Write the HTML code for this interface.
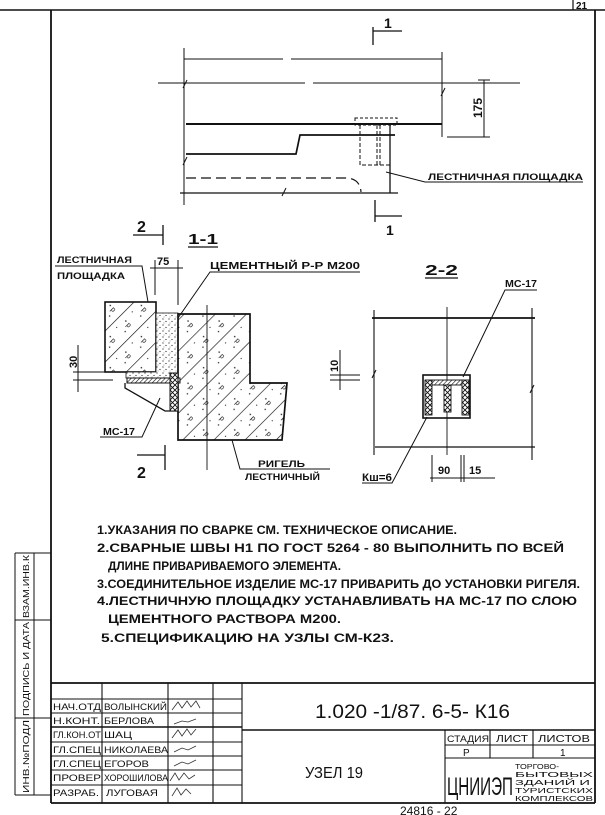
<!DOCTYPE html>
<html><head><meta charset="utf-8"><style>
html,body{margin:0;padding:0;background:#fff}
svg{display:block}
text{font-family:"Liberation Sans","DejaVu Sans",sans-serif;fill:#111}
</style></head><body>
<svg width="605" height="815" viewBox="0 0 605 815" xmlns="http://www.w3.org/2000/svg">
<defs>
<pattern id="hat" width="22" height="22" patternUnits="userSpaceOnUse" patternTransform="rotate(45)">
<rect width="22" height="22" fill="#fff"/>
<line x1="0" y1="0" x2="0" y2="22" stroke="#111" stroke-width="1.3"/>
<circle cx="8" cy="6" r="0.8" fill="#222"/><circle cx="15" cy="14" r="0.7" fill="#222"/><circle cx="6" cy="17" r="0.6" fill="#222"/>
<text x="11" y="9" font-size="7">p</text>
</pattern>
<pattern id="dots" width="6" height="6" patternUnits="userSpaceOnUse">
<rect width="6" height="6" fill="#fff"/>
<circle cx="1" cy="1" r="0.6" fill="#222"/><circle cx="4" cy="3.5" r="0.6" fill="#222"/><circle cx="2" cy="5" r="0.4" fill="#222"/>
</pattern>
<pattern id="sh" width="3" height="3" patternUnits="userSpaceOnUse" patternTransform="rotate(45)">
<rect width="3" height="3" fill="#fff"/><line x1="0" y1="0" x2="0" y2="3" stroke="#111" stroke-width="1.2"/>
</pattern>
<pattern id="xx" width="5" height="5" patternUnits="userSpaceOnUse">
<rect width="5" height="5" fill="#fff"/><path d="M0 0L5 5M5 0L0 5" stroke="#111" stroke-width="0.9"/>
</pattern>
</defs>
<g stroke="#111" fill="none">
<!-- frame -->
<line x1="0" y1="10" x2="605" y2="10" stroke-width="1.5"/>
<line x1="573" y1="0" x2="573" y2="10" stroke-width="1.2"/>
<line x1="595" y1="10" x2="595" y2="803" stroke-width="1.8"/>
<line x1="51" y1="10" x2="51" y2="803" stroke-width="1.8"/>
<line x1="51" y1="803" x2="595" y2="803" stroke-width="1.8"/>
<!-- left strip -->
<path d="M15 553H51M15 620H51M15 718H51M15 795H51M15 553V795M34 553V795" stroke-width="1"/>
<!-- title block -->
<path d="M51 683H595" stroke-width="1.8"/>
<path d="M51 699H242M51 713H242M51 742H242M51 756H242M51 770H242M51 785H242" stroke-width="0.9"/>
<path d="M51 727H242M242 730H595" stroke-width="1.6"/>
<path d="M102 683V803M168 683V803M213 683V803M242 683V803" stroke-width="1.1"/>
<path d="M445 730V803M445 745H595M445 758H595M490 730V758M533 730V758" stroke-width="1.1"/>

<!-- top view -->
<path d="M373 27V45M373 31H402" stroke-width="1.3"/>
<path d="M184 48V205M442 52V137M184 59H283M291 59H442" stroke-width="1"/>
<path d="M158 83H305M313 83H520" stroke-width="0.9"/>
<path d="M186 124H442" stroke-width="2"/>
<path d="M186 154H296L300 135H395" stroke-width="1.7"/>
<path d="M355 118H397V125H355Z" stroke-width="1" stroke-dasharray="3 2"/>
<path d="M360 125V165H390M377 125V165M380 125V165" stroke-width="1" stroke-dasharray="4 2"/>
<path d="M390 125V193" stroke-width="1.3"/>
<path d="M186 178H345Q360 178 361 192" stroke-width="1.2" stroke-dasharray="10 5"/>
<path d="M180 193H398" stroke-width="1.2"/>
<path d="M183 88L187 80M441 96L445 88M183 165L187 157M282 196L286 188" stroke-width="1"/>
<path d="M375 200V222M375 216H402" stroke-width="1.3"/>
<path d="M484 80V137M447 137H490M478 80H490" stroke-width="1"/>
<path d="M386 172L425 182H583" stroke-width="1"/>

<!-- section 1-1 -->
<path d="M133 235H163M163 225V245" stroke-width="1.3"/>
<path d="M188 247H218" stroke-width="1.3"/>
<rect x="105" y="302" width="51" height="70" fill="url(#hat)" stroke-width="1.6"/>
<path d="M156 313H178V378H126V372H156Z" fill="url(#dots)" stroke-width="0.8"/>
<path d="M178 314H250V383H287L282 440H178Z" fill="url(#hat)" stroke-width="1.7"/>
<path d="M127 378H180V383H127Z" fill="url(#sh)" stroke-width="1"/>
<path d="M125 383V388L165 411H178" stroke-width="1.3"/>
<path d="M170 373H178V411H170Z" fill="url(#xx)" stroke-width="1"/>
<path d="M207 305V470" stroke-width="0.9"/>
<path d="M55 266H142L148 302" stroke-width="1"/>
<path d="M155 260V295M178 260V305M150 268H183" stroke-width="1"/>
<path d="M360 272H210L178 318" stroke-width="1"/>
<path d="M73 372H113M73 380H113M78 345V392" stroke-width="1"/>
<path d="M330 375H360M330 380H360M340 350V390" stroke-width="1"/>
<path d="M100 437H142L160 398" stroke-width="1"/>
<path d="M137 455H165M165 445V470" stroke-width="1.3"/>
<path d="M330 469H240L232 440" stroke-width="1"/>

<!-- section 2-2 -->
<path d="M425 278H458" stroke-width="1.3"/>
<path d="M372 318H535" stroke-width="1.8"/>
<path d="M375 447H535" stroke-width="1.3"/>
<path d="M374 310V455M532 308V460" stroke-width="1.1"/>
<path d="M447 307V455" stroke-width="0.9"/>
<rect x="423" y="375" width="47" height="43" stroke-width="1.6"/>
<rect x="432" y="380" width="31" height="5" fill="url(#sh)" stroke-width="0.9"/>
<rect x="425" y="380" width="7" height="35" fill="url(#xx)" stroke-width="0.9"/>
<rect x="462" y="380" width="7" height="35" fill="url(#xx)" stroke-width="0.9"/>
<rect x="444" y="385" width="7" height="27" fill="url(#xx)" stroke-width="0.9"/>
<path d="M537 290H505L463 377" stroke-width="1"/>
<path d="M362 483H392L427 417" stroke-width="1"/>
<path d="M432 455V482M461 455V482M464 455V482M430 478H495" stroke-width="1"/>
<path d="M372 378L376 370M530 393L534 385" stroke-width="1"/>
</g>

<!-- texts -->
<g font-weight="bold">
<text x="576" y="9" font-size="10">21</text>
<text x="384" y="28" font-size="14">1</text>
<text x="386" y="235" font-size="14">1</text>
<text transform="translate(482,118) rotate(-90)" font-size="12">175</text>
<text x="428" y="180" font-size="9" textLength="155" lengthAdjust="spacingAndGlyphs">ЛЕСТНИЧНАЯ ПЛОЩАДКА</text>
<text x="137" y="232" font-size="16">2</text>
<text x="188" y="244" font-size="15" textLength="30" lengthAdjust="spacingAndGlyphs">1-1</text>
<text x="57" y="263" font-size="9" textLength="75" lengthAdjust="spacingAndGlyphs">ЛЕСТНИЧНАЯ</text>
<text x="57" y="279" font-size="9" textLength="68" lengthAdjust="spacingAndGlyphs">ПЛОЩАДКА</text>
<text x="157" y="265" font-size="11">75</text>
<text x="210" y="269" font-size="10" textLength="150" lengthAdjust="spacingAndGlyphs">ЦЕМЕНТНЫЙ Р-Р М200</text>
<text transform="translate(77,368) rotate(-90)" font-size="11">30</text>
<text transform="translate(338,372) rotate(-90)" font-size="11">10</text>
<text x="103" y="435" font-size="10" textLength="32" lengthAdjust="spacingAndGlyphs">МС-17</text>
<text x="137" y="478" font-size="16">2</text>
<text x="258" y="467" font-size="9" textLength="47" lengthAdjust="spacingAndGlyphs">РИГЕЛЬ</text>
<text x="245" y="480" font-size="9" textLength="75" lengthAdjust="spacingAndGlyphs">ЛЕСТНИЧНЫЙ</text>
<text x="425" y="275" font-size="15" textLength="33" lengthAdjust="spacingAndGlyphs">2-2</text>
<text x="505" y="287" font-size="10" textLength="32" lengthAdjust="spacingAndGlyphs">МС-17</text>
<text x="362" y="481" font-size="11" textLength="30" lengthAdjust="spacingAndGlyphs">Кш=6</text>
<text x="438" y="474" font-size="11">90</text>
<text x="469" y="474" font-size="11">15</text>
</g>
<g font-size="12" font-weight="bold">
<text x="97" y="534" textLength="360" lengthAdjust="spacingAndGlyphs">1.УКАЗАНИЯ ПО СВАРКЕ СМ. ТЕХНИЧЕСКОЕ ОПИСАНИЕ.</text>
<text x="97" y="552" textLength="467" lengthAdjust="spacingAndGlyphs">2.СВАРНЫЕ ШВЫ Н1 ПО ГОСТ 5264 - 80 ВЫПОЛНИТЬ ПО ВСЕЙ</text>
<text x="108" y="570" textLength="233" lengthAdjust="spacingAndGlyphs">ДЛИНЕ ПРИВАРИВАЕМОГО ЭЛЕМЕНТА.</text>
<text x="97" y="588" textLength="483" lengthAdjust="spacingAndGlyphs">3.СОЕДИНИТЕЛЬНОЕ ИЗДЕЛИЕ МС-17 ПРИВАРИТЬ ДО УСТАНОВКИ РИГЕЛЯ.</text>
<text x="97" y="605" textLength="480" lengthAdjust="spacingAndGlyphs">4.ЛЕСТНИЧНУЮ ПЛОЩАДКУ УСТАНАВЛИВАТЬ НА МС-17 ПО СЛОЮ</text>
<text x="108" y="623" textLength="233" lengthAdjust="spacingAndGlyphs">ЦЕМЕНТНОГО РАСТВОРА  М200.</text>
<text x="101" y="642" textLength="293" lengthAdjust="spacingAndGlyphs">5.СПЕЦИФИКАЦИЮ НА УЗЛЫ СМ-К23.</text>
</g>
<g font-size="8.5">
<text transform="translate(29,793) rotate(-90)" textLength="73" lengthAdjust="spacingAndGlyphs">ИНВ.№ПОДЛ</text>
<text transform="translate(29,716) rotate(-90)" textLength="94" lengthAdjust="spacingAndGlyphs">ПОДПИСЬ И ДАТА</text>
<text transform="translate(29,618) rotate(-90)" textLength="63" lengthAdjust="spacingAndGlyphs">ВЗАМ.ИНВ.К</text>
</g>
<g font-size="9.5">
<text x="53" y="710" textLength="48" lengthAdjust="spacingAndGlyphs">НАЧ.ОТД</text>
<text x="104" y="710" textLength="63" lengthAdjust="spacingAndGlyphs">ВОЛЫНСКИЙ</text>
<text x="53" y="724" textLength="47" lengthAdjust="spacingAndGlyphs">Н.КОНТ.</text>
<text x="104" y="724" textLength="50" lengthAdjust="spacingAndGlyphs">БЕРЛОВА</text>
<text x="53" y="738" textLength="48" lengthAdjust="spacingAndGlyphs">ГЛ.КОН.ОТ</text>
<text x="104" y="738" textLength="28" lengthAdjust="spacingAndGlyphs">ШАЦ</text>
<text x="53" y="753" textLength="48" lengthAdjust="spacingAndGlyphs">ГЛ.СПЕЦ</text>
<text x="104" y="753" textLength="64" lengthAdjust="spacingAndGlyphs">НИКОЛАЕВА</text>
<text x="53" y="767" textLength="48" lengthAdjust="spacingAndGlyphs">ГЛ.СПЕЦ</text>
<text x="104" y="767" textLength="45" lengthAdjust="spacingAndGlyphs">ЕГОРОВ</text>
<text x="53" y="781" textLength="48" lengthAdjust="spacingAndGlyphs">ПРОВЕР</text>
<text x="104" y="781" textLength="64" lengthAdjust="spacingAndGlyphs">ХОРОШИЛОВА</text>
<text x="53" y="796" textLength="46" lengthAdjust="spacingAndGlyphs">РАЗРАБ.</text>
<text x="106" y="796" textLength="52" lengthAdjust="spacingAndGlyphs">ЛУГОВАЯ</text>
</g>
<g stroke="#333" fill="none" stroke-width="0.8">
<path d="M172 710l6-8l4 6l5-7l4 6l5-6l4 7"/>
<path d="M174 724l8-3l6 1l8-3"/>
<path d="M172 738l6-8l4 6l5-7l4 6l5-6"/>
<path d="M174 752l8-4l6 2l8-4"/>
<path d="M174 766l8-4l6 2l8-4"/>
<path d="M170 781l5-8l4 7l5-7l5 6l6-4"/>
<path d="M172 796l5-8l4 7l5-6l5 5"/>
</g>
<text x="315" y="718" font-size="19" textLength="195" lengthAdjust="spacingAndGlyphs">1.020 -1/87. 6-5- К16</text>
<text x="305" y="778" font-size="16" textLength="58" lengthAdjust="spacingAndGlyphs">УЗЕЛ 19</text>
<text x="447" y="742" font-size="9" textLength="42" lengthAdjust="spacingAndGlyphs">СТАДИЯ</text>
<text x="496" y="742" font-size="10" textLength="32" lengthAdjust="spacingAndGlyphs">ЛИСТ</text>
<text x="538" y="742" font-size="10" textLength="52" lengthAdjust="spacingAndGlyphs">ЛИСТОВ</text>
<text x="463" y="756" font-size="10">Р</text>
<text x="560" y="756" font-size="10">1</text>
<text x="447" y="795" font-size="25" textLength="66" lengthAdjust="spacingAndGlyphs">ЦНИИЭП</text>
<g font-size="7.5">
<text x="515" y="769" textLength="44" lengthAdjust="spacingAndGlyphs">ТОРГОВО-</text>
<text x="515" y="777" textLength="78" lengthAdjust="spacingAndGlyphs">БЫТОВЫХ</text>
<text x="515" y="785" textLength="75" lengthAdjust="spacingAndGlyphs">ЗДАНИЙ И</text>
<text x="515" y="793" textLength="78" lengthAdjust="spacingAndGlyphs">ТУРИСТСКИХ</text>
<text x="515" y="801" textLength="78" lengthAdjust="spacingAndGlyphs">КОМПЛЕКСОВ</text>
</g>
<text x="400" y="815" font-size="12">24816 - 22</text>
</svg>
</body></html>
